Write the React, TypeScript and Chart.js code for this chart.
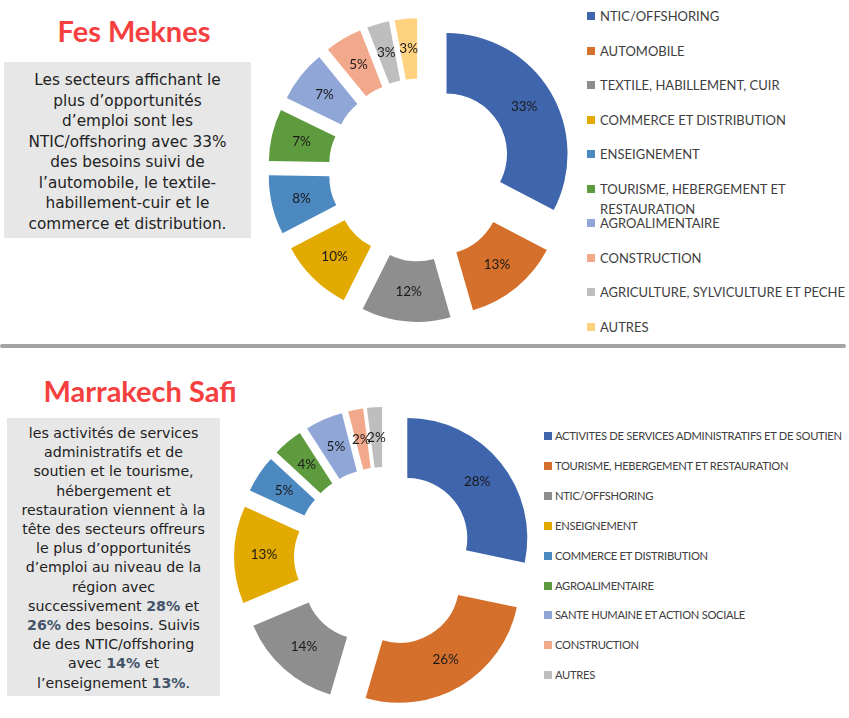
import React, { useEffect, useRef } from 'react';
import { Chart, registerables } from 'chart.js';

Chart.register(...registerables);

// ---------- Data: Fes Meknes ----------
const fesCategories = [
  'NTIC/OFFSHORING',
  'AUTOMOBILE',
  'TEXTILE, HABILLEMENT, CUIR',
  'COMMERCE ET DISTRIBUTION',
  'ENSEIGNEMENT',
  'TOURISME, HEBERGEMENT ET RESTAURATION',
  'AGROALIMENTAIRE',
  'CONSTRUCTION',
  'AGRICULTURE, SYLVICULTURE ET PECHE',
  'AUTRES',
];
const fesValues = [33, 13, 12, 10, 8, 7, 7, 5, 3, 3];
const fesColors = ['#3F65AD', '#D4702B', '#8E8E8E', '#E2A900', '#4C89C0', '#5E9A3E', '#8FA6D6', '#F2A98B', '#BEBEBE', '#FFD27F'];

// ---------- Data: Marrakech Safi ----------
const msCategories = [
  'ACTIVITES DE SERVICES ADMINISTRATIFS ET DE SOUTIEN',
  'TOURISME, HEBERGEMENT ET RESTAURATION',
  'NTIC/OFFSHORING',
  'ENSEIGNEMENT',
  'COMMERCE ET DISTRIBUTION',
  'AGROALIMENTAIRE',
  'SANTE HUMAINE ET ACTION SOCIALE',
  'CONSTRUCTION',
  'AUTRES',
];
const msValues = [28, 26, 14, 13, 5, 4, 5, 2, 2];
const msColors = ['#3F65AD', '#D4702B', '#8E8E8E', '#E2A900', '#4C89C0', '#5E9A3E', '#8FA6D6', '#F2A98B', '#BEBEBE'];

const fesText = [
  'Les secteurs affichant le',
  'plus d’opportunités',
  'd’emploi sont les',
  'NTIC/offshoring avec 33%',
  'des besoins suivi de',
  'l’automobile, le textile-',
  'habillement-cuir et le',
  'commerce et distribution.',
];

const explodePlugin = (dist: number) => ({
  id: 'explodeSlices',
  afterDatasetUpdate(chart: any, args: any) {
    const a = chart.chartArea;
    const cx = (a.left + a.right) / 2;
    const cy = (a.top + a.bottom) / 2;
    args.meta.data.forEach((arc: any) => {
      const mid = (arc.startAngle + arc.endAngle) / 2;
      arc.x = cx + Math.cos(mid) * dist;
      arc.y = cy + Math.sin(mid) * dist;
    });
  },
});

const labelPlugin = {
  id: 'pctLabels',
  afterDatasetsDraw(chart: any) {
    const ctx = chart.ctx;
    const meta = chart.getDatasetMeta(0);
    const data = chart.data.datasets[0].data;
    ctx.save();
    ctx.font = '13.5px Lato';
    ctx.fillStyle = '#1a1a1a';
    ctx.textAlign = 'center';
    ctx.textBaseline = 'middle';
    meta.data.forEach((arc: any, i: number) => {
      const p = arc.tooltipPosition(false);
      ctx.fillText(data[i] + '%', p.x, p.y);
    });
    ctx.restore();
  },
};

function Doughnut(props: {
  labels: string[]; values: number[]; colors: string[];
  radius: number; dist: number; left: number; top: number; width: number; height: number;
}) {
  const ref = useRef<HTMLCanvasElement>(null);
  useEffect(() => {
    const chart = new Chart(ref.current as HTMLCanvasElement, {
      type: 'doughnut',
      data: {
        labels: props.labels,
        datasets: [{ data: props.values, backgroundColor: props.colors, borderWidth: 0 }],
      },
      options: {
        responsive: false,
        animation: false,
        radius: props.radius,
        cutout: '50%',
        layout: { padding: 0 },
        events: [],
        plugins: { legend: { display: false }, tooltip: { enabled: false } },
      } as any,
      plugins: [explodePlugin(props.dist), labelPlugin],
    });
    return () => chart.destroy();
  }, []);
  return (
    <canvas
      ref={ref}
      width={props.width}
      height={props.height}
      style={{ position: 'absolute', left: props.left, top: props.top, width: props.width, height: props.height }}
    />
  );
}

function Legend(props: {
  labels: string[]; colors: string[]; left: number; top: number; step: number;
  fontSize: number; width: number; box: number; gap: number; letterSpacing?: number; nowrap?: boolean;
}) {
  return (
    <>
      {props.labels.map((l, i) => (
        <div
          key={l}
          style={{
            position: 'absolute',
            left: props.left,
            top: props.top + i * props.step - 10,
            width: props.width,
            display: 'flex',
            alignItems: 'flex-start',
            fontFamily: 'Lato, sans-serif',
            fontSize: props.fontSize,
            letterSpacing: props.letterSpacing || 0,
            whiteSpace: props.nowrap ? 'nowrap' : 'normal',
            lineHeight: '20px',
            color: '#404040',
          }}
        >
          <span
            style={{
              display: 'inline-block',
              width: props.box,
              height: props.box,
              background: props.colors[i],
              marginTop: 10 - props.box / 2,
              marginRight: props.gap,
              flex: 'none',
            }}
          />
          <span>{l}</span>
        </div>
      ))}
    </>
  );
}

const hl: React.CSSProperties = { color: '#44546A', fontWeight: 'bold' };

export default function App() {
  return (
    <div
      style={{
        position: 'absolute',
        left: 0,
        top: 0,
        width: 849,
        height: 718,
        background: '#ffffff',
        overflow: 'hidden',
      }}
    >
      {/* Top panel */}
      <div
        style={{
          position: 'absolute', left: 34, top: 13, width: 200, textAlign: 'center',
          fontFamily: 'Lato, sans-serif', fontWeight: 'bold', fontSize: 29, lineHeight: '36px', color: '#F5403F',
        }}
      >
        Fes Meknes
      </div>
      <div
        style={{
          position: 'absolute', left: 4, top: 62, width: 247, height: 176, background: '#E7E7E7',
          boxSizing: 'border-box', paddingTop: 8, textAlign: 'center',
          fontFamily: '"DejaVu Sans", sans-serif', fontSize: 15.3, lineHeight: '20.5px', color: '#222222',
        }}
      >
        {fesText.map((t) => (
          <div key={t}>{t}</div>
        ))}
      </div>
      <Doughnut labels={fesCategories} values={fesValues} colors={fesColors} radius={121} dist={31}
        left={255} top={0} width={330} height={340} />
      <Legend labels={fesCategories} colors={fesColors} left={587} top={16} step={34.5}
        fontSize={13} width={258} box={8} gap={5} />

      {/* Separator */}
      <div style={{ position: 'absolute', left: 0, top: 344, width: 846, height: 4, background: '#A3A3A3', borderRadius: 2 }} />

      {/* Bottom panel */}
      <div
        style={{
          position: 'absolute', left: 40, top: 373, width: 200, textAlign: 'center',
          fontFamily: 'Lato, sans-serif', fontWeight: 'bold', fontSize: 29, lineHeight: '36px', color: '#F5403F',
        }}
      >
        Marrakech Safi
      </div>
      <div
        style={{
          position: 'absolute', left: 7, top: 418, width: 213, height: 278, background: '#E7E7E7',
          boxSizing: 'border-box', paddingTop: 6, textAlign: 'center',
          fontFamily: '"DejaVu Sans", sans-serif', fontSize: 14.2, lineHeight: '19.2px', color: '#222222',
        }}
      >
        <div>les activités de services</div>
        <div>administratifs et de</div>
        <div>soutien et le tourisme,</div>
        <div>hébergement et</div>
        <div>restauration viennent à la</div>
        <div>tête des secteurs offreurs</div>
        <div>le plus d’opportunités</div>
        <div>d’emploi au niveau de la</div>
        <div>région avec</div>
        <div>successivement <span style={hl}>28%</span> et</div>
        <div><span style={hl}>26%</span> des besoins. Suivis</div>
        <div>de des NTIC/offshoring</div>
        <div>avec <span style={hl}>14%</span> et</div>
        <div>l’enseignement <span style={hl}>13%</span>.</div>
      </div>
      <Doughnut labels={msCategories} values={msValues} colors={msColors} radius={120} dist={30}
        left={224} top={397} width={320} height={320} />
      <Legend labels={msCategories} colors={msColors} left={544} top={436} step={29.9}
        fontSize={11.2} width={305} box={8} gap={3} letterSpacing={-0.3} nowrap />
    </div>
  );
}
